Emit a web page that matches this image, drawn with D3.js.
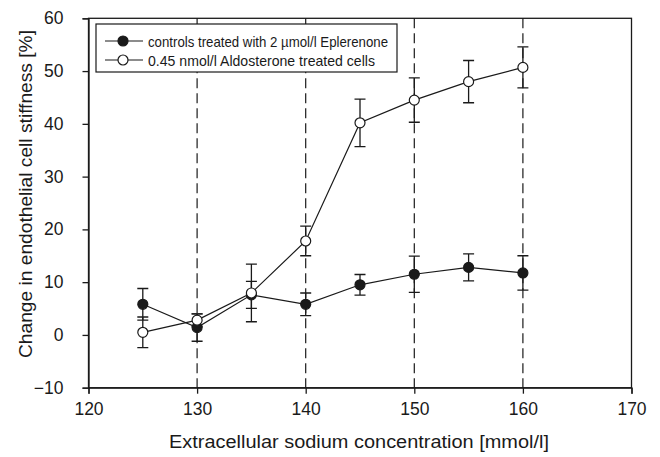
<!DOCTYPE html>
<html><head><meta charset="utf-8">
<script src="https://cdn.jsdelivr.net/npm/d3@7/dist/d3.min.js"></script>
<style>body{margin:0;background:#fff}svg{display:block}text{font-family:"Liberation Sans",Arial,sans-serif;fill:#1a1a1a}</style>
</head><body><svg id="c" width="660" height="457"></svg>
<script>
const sodium = [125,130,135,140,145,150,155,160];
const controlMean = [5.8,1.4,7.6,5.8,9.5,11.5,12.8,11.75];
const controlErr  = [3.0,2.6,2.55,2.15,1.95,3.45,2.55,3.25];
const aldoMean = [0.5,2.8,7.95,17.8,40.2,44.5,48.0,50.7];
const aldoErr  = [2.9,1.2,5.45,2.8,4.5,4.2,4.0,3.9];
const xTicks = [120,130,140,150,160,170];
const yTicks = [-10,0,10,20,30,40,50,60];
const dashedAt = [130,140,150,160];
const seriesNames = ["controls treated with 2 \u00b5mol/l Eplerenone","0.45 nmol/l Aldosterone treated cells"];

const svg = d3.select("#c");
const L=88.5, R=631.5, T=18.3, B=387.7;
const x = d3.scaleLinear().domain([120,170]).range([L,R]);
const y = d3.scaleLinear().domain([-10,60]).range([B,T]);
const ink="#1a1a1a";

svg.append("rect").attr("x",L).attr("y",T).attr("width",R-L).attr("height",B-T)
  .attr("fill","none").attr("stroke",ink).attr("stroke-width",1.3);

svg.selectAll(".dash").data(dashedAt).enter().append("line")
  .attr("x1",d=>x(d)).attr("x2",d=>x(d)).attr("y1",T).attr("y2",B)
  .attr("stroke",ink).attr("stroke-width",1.2).attr("stroke-dasharray","10,5");

const xAxis = d3.axisBottom(x).tickValues(xTicks).tickSize(6).tickPadding(9).tickFormat(d3.format("d"));
const gx = svg.append("g").attr("transform",`translate(0,${B})`).call(xAxis);
const yAxis = d3.axisLeft(y).tickValues(yTicks).tickSize(6).tickPadding(19).tickFormat(d3.format("d"));
const gy = svg.append("g").attr("transform",`translate(${L},0)`).call(yAxis);
[gx,gy].forEach(g=>{
  g.select(".domain").attr("stroke",ink).attr("stroke-width",1.3);
  g.selectAll(".tick line").attr("stroke",ink).attr("stroke-width",1.3);
  g.selectAll(".tick text").attr("font-size",17.5).attr("fill",ink)
   .style("font-family",'"Liberation Sans",Arial,sans-serif');
});

svg.append("text").attr("x",359).attr("y",448).attr("text-anchor","middle")
  .attr("font-size",17.5).attr("textLength",380).attr("lengthAdjust","spacingAndGlyphs")
  .text("Extracellular sodium concentration [mmol/l]");
svg.append("text").attr("transform",`translate(32,${194}) rotate(-90)`).attr("text-anchor","middle")
  .attr("font-size",17.5).attr("textLength",328).attr("lengthAdjust","spacingAndGlyphs")
  .text("Change in endothelial cell stiffness [%]");

const series = [
  {mean:controlMean, err:controlErr, fill:ink},
  {mean:aldoMean, err:aldoErr, fill:"#fff"}
];
const cap=5.5, r=5;
series.forEach(s=>{
  const g = svg.append("g");
  const pts = sodium.map((v,i)=>({x:v,m:s.mean[i],e:s.err[i]}));
  g.selectAll(".eb").data(pts).enter().append("path")
   .attr("d",d=>`M${x(d.x)},${y(d.m-d.e)}V${y(d.m+d.e)}M${x(d.x)-cap},${y(d.m-d.e)}H${x(d.x)+cap}M${x(d.x)-cap},${y(d.m+d.e)}H${x(d.x)+cap}`)
   .attr("stroke",ink).attr("stroke-width",1.3).attr("fill","none");
  s.g=g; s.pts=pts;
});
series.forEach(s=>{
  s.g.append("path").datum(s.pts).attr("d",d3.line().x(d=>x(d.x)).y(d=>y(d.m)))
   .attr("fill","none").attr("stroke",ink).attr("stroke-width",1.2);
});
series.forEach(s=>{
  s.g.selectAll(".pt").data(s.pts).enter().append("circle")
   .attr("cx",d=>x(d.x)).attr("cy",d=>y(d.m)).attr("r",r)
   .attr("fill",s.fill).attr("stroke",ink).attr("stroke-width",1.2);
});

const lg = svg.append("g");
lg.append("rect").attr("x",96).attr("y",24).attr("width",301).attr("height",48)
  .attr("fill","#fff").attr("stroke",ink).attr("stroke-width",1.2);
const legendLen = [240, 227];
seriesNames.forEach((n,i)=>{
  const yy = 41 + i*19;
  lg.append("line").attr("x1",105).attr("x2",143).attr("y1",yy).attr("y2",yy).attr("stroke",ink).attr("stroke-width",1.2);
  lg.append("circle").attr("cx",123).attr("cy",yy).attr("r",r).attr("fill",series[i].fill).attr("stroke",ink).attr("stroke-width",1.2);
  lg.append("text").attr("x",148).attr("y",yy+5.5).attr("font-size",15)
    .attr("textLength",legendLen[i]).attr("lengthAdjust","spacingAndGlyphs").text(n);
});
</script></body></html>
